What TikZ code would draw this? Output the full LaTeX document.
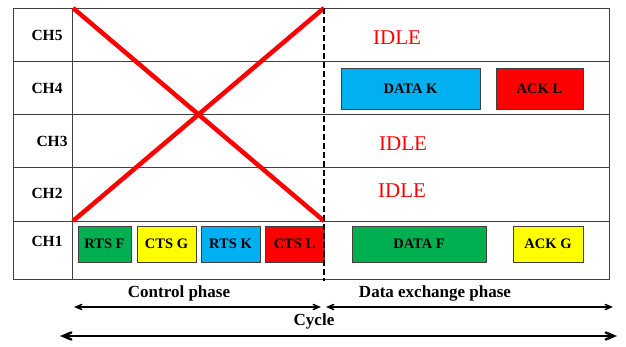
\documentclass[tikz,border=0pt]{standalone}
\usepackage{fontspec}
\setmainfont{Liberation Serif}
\usepackage{tikz}
\usetikzlibrary{positioning, arrows}
\definecolor{pktgreen}{HTML}{00B050}
\definecolor{pktyellow}{HTML}{FFFF00}
\definecolor{pktblue}{HTML}{00B0F0}
\definecolor{pktred}{HTML}{FF0000}
\tikzstyle{arrow} = [line width=1.4pt,<->,>=angle 45]

\begin{document}
\begin{tikzpicture}[
    x=1pt, y=-1pt,
    pkt/.style={draw=black!75, line width=0.8pt, inner sep=0pt, minimum height=36pt,
      font=\fontsize{14.5}{16}\selectfont\bfseries},
    chlabel/.style={font=\fontsize{15.5}{17}\selectfont\bfseries},
    idle/.style={text=pktred, font=\fontsize{21}{23}\selectfont},
    phase/.style={font=\fontsize{17}{19}\selectfont\bfseries}
  ]
  \useasboundingbox (0,0) rectangle (626,347);

  % grid
  \draw[black!75, line width=0.9pt] (13,8) rectangle (609,279);
  \draw[black!75, line width=0.9pt] (72,8) -- (72,279);
  \foreach \y in {61,114,167,221}
    \draw[black!75, line width=0.9pt] (13,\y) -- (609,\y);

  % channel labels
  \node[chlabel] (ch5) at (47,35) {CH5};
  \node[chlabel] (ch4) at (47,88) {CH4};
  \node[chlabel] (ch3) at (52,141) {CH3};
  \node[chlabel] (ch2) at (47,193) {CH2};
  \node[chlabel] (ch1) at (47,241) {CH1};

  % control phase packets
  \node[pkt, fill=pktgreen, minimum width=53pt] (rtsf) at (104.5,244) {RTS F};
  \node[pkt, fill=pktyellow, minimum width=59pt] (ctsg) at (166.5,244) {CTS G};
  \node[pkt, fill=pktblue, minimum width=59pt] (rtsk) at (230.5,244) {RTS K};
  \node[pkt, fill=pktred, minimum width=59pt] (ctsl) at (294.5,244) {CTS L};

  % data exchange packets
  \node[pkt, fill=pktgreen, minimum width=134pt] (dataf) at (419,244) {DATA F};
  \node[pkt, fill=pktyellow, minimum width=70pt] (ackg) at (548,244) {ACK G};
  \node[pkt, fill=pktblue, minimum width=139pt, minimum height=41pt] (datak) at (410.5,88.5) {DATA K};
  \node[pkt, fill=pktred, minimum width=87pt, minimum height=41pt] (ackl) at (539.5,88.5) {ACK L};

  \node[idle] (idle5) at (397,38) {IDLE};
  \node[idle] (idle3) at (403,144) {IDLE};
  \node[idle] (idle2) at (402,191) {IDLE};

  % crossed out channels
  \draw[pktred, line width=4.5pt] (73,8) -- (324,221);
  \draw[pktred, line width=4.5pt] (324,8) -- (73,221);

  % phase border
  \draw[line width=2.5pt, dash pattern=on 6pt off 3pt] (324,8) -- (324,281);

  % phases and cycle
  \coordinate (cp-l) at (74,307);
  \coordinate (cp-r) at (321,307);
  \coordinate (dp-l) at (326,307);
  \coordinate (dp-r) at (613,307);
  \coordinate (cy-l) at (60,336);
  \coordinate (cy-r) at (617,336);
  \draw[arrow] (cp-l) -- (cp-r);
  \draw[arrow] (dp-l) -- (dp-r);
  \draw[arrow, line width=2.4pt] (cy-l) -- (cy-r);
  \node[phase] (ctrl) at (179,293) {Control phase};
  \node[phase] (dexch) at (435,293) {Data exchange phase};
  \node[phase] (cycle) at (314,321) {Cycle};

\end{tikzpicture}
\end{document}
